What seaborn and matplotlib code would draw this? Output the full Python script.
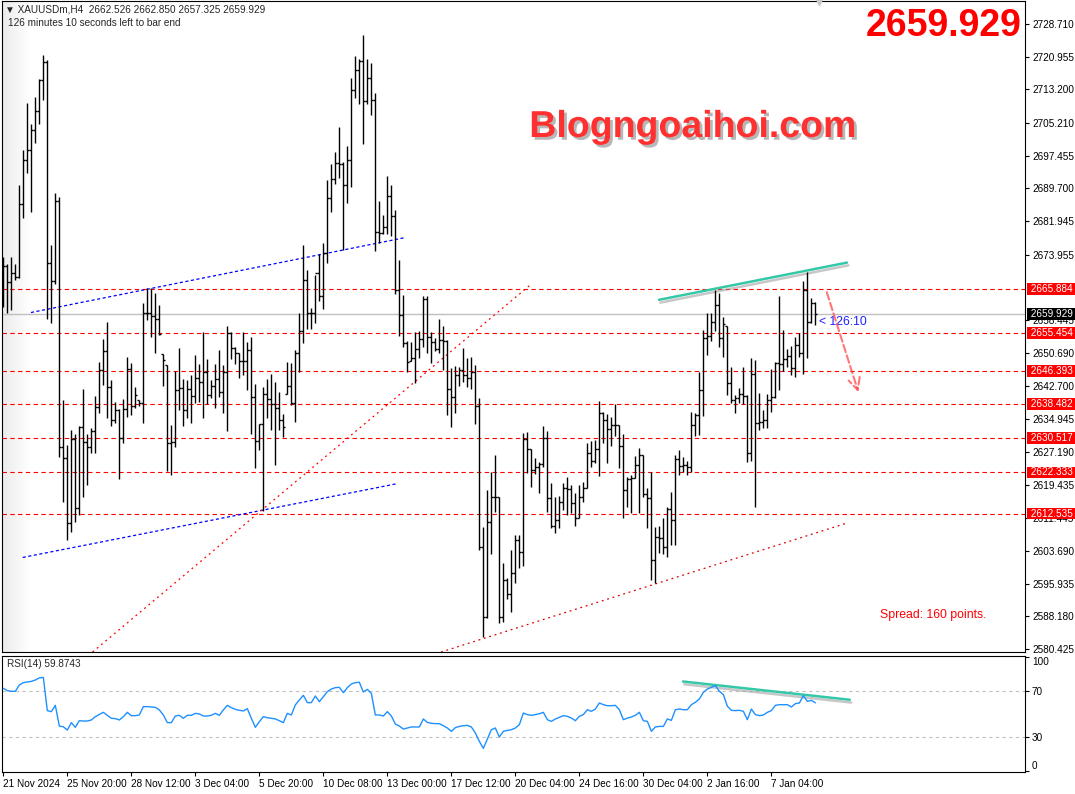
import numpy as np
import matplotlib
matplotlib.use("Agg")
import matplotlib.pyplot as plt
import matplotlib.patheffects as pe
from matplotlib.colors import LinearSegmentedColormap
from matplotlib.transforms import blended_transform_factory
import seaborn as sns

# ---- data (XAUUSDm H4) ----
symbol = "XAUUSDm,H4"
last_ohlc = [2662.526, 2662.850, 2657.325, 2659.929]
first_open = 2668.0

highs = [
    2673.51, 2671.85, 2673.51, 2671.85, 2690.56, 2698.85, 2709.98, 2705.01, 2711.40, 2715.67,
    2721.35, 2720.17, 2676.35, 2688.67, 2687.72, 2639.40, 2628.74, 2632.29, 2631.35, 2633.24,
    2642.01, 2631.35, 2632.77, 2640.35, 2648.40, 2653.85, 2658.11, 2644.14, 2638.93, 2637.27,
    2639.64, 2649.58, 2648.16, 2642.48, 2639.40, 2662.61, 2666.16, 2666.16, 2664.98, 2662.14,
    2650.30, 2647.69, 2633.48, 2646.27, 2651.72, 2644.37, 2644.14, 2645.32, 2650.06, 2647.93,
    2655.51, 2649.11, 2644.14, 2647.93, 2651.24, 2647.69, 2657.16, 2655.51, 2651.95, 2650.53,
    2655.51, 2653.14, 2654.32, 2643.19, 2633.72, 2642.48, 2644.37, 2645.56, 2643.66, 2641.29,
    2636.08, 2648.40, 2648.16, 2651.24, 2660.24, 2676.35, 2670.43, 2661.43, 2669.24, 2674.22,
    2676.82, 2691.74, 2695.53, 2698.38, 2704.30, 2696.01, 2699.80, 2715.90, 2721.11, 2720.40,
    2726.09, 2720.40, 2719.46, 2712.35, 2686.77, 2683.45, 2692.69, 2690.56, 2684.64, 2672.80,
    2664.51, 2653.37, 2653.14, 2655.51, 2655.74, 2664.27, 2664.27, 2655.51, 2654.08, 2658.59,
    2656.93, 2653.61, 2646.98, 2647.45, 2647.22, 2651.72, 2649.35, 2649.58, 2647.69, 2639.87,
    2609.32, 2618.08, 2622.35, 2626.37, 2616.43, 2600.79, 2597.24, 2603.87, 2607.43, 2607.43,
    2631.58, 2631.82, 2627.79, 2625.66, 2624.72, 2633.24, 2632.06, 2619.74, 2616.43, 2616.66,
    2619.74, 2621.16, 2619.27, 2617.37, 2619.27, 2619.98, 2629.22, 2629.69, 2629.93, 2639.16,
    2636.56, 2636.08, 2635.37, 2638.45, 2633.48, 2631.35, 2621.16, 2621.64, 2626.14, 2628.03,
    2626.37, 2618.56, 2622.35, 2609.32, 2609.56, 2611.45, 2614.06, 2617.61, 2626.37, 2627.56,
    2625.90, 2624.95, 2636.56, 2636.32, 2646.03, 2655.98, 2660.24, 2660.24, 2665.69, 2664.98,
    2659.06, 2657.16, 2647.22, 2640.58, 2642.24, 2647.22, 2640.58, 2649.35, 2648.87, 2641.06,
    2637.03, 2640.82, 2646.74, 2648.40, 2664.27, 2655.98, 2651.48, 2652.19, 2654.32, 2655.27,
    2667.82, 2669.95, 2663.80, 2662.85,
]
lows = [
    2661.66, 2660.01, 2660.95, 2668.06, 2668.53, 2682.74, 2693.40, 2684.17, 2700.51, 2705.01,
    2710.69, 2658.59, 2657.87, 2667.11, 2625.90, 2615.24, 2606.24, 2608.14, 2610.50, 2612.16,
    2616.43, 2619.27, 2626.85, 2626.85, 2636.32, 2642.95, 2635.14, 2633.24, 2633.95, 2620.69,
    2629.22, 2635.37, 2635.85, 2637.51, 2637.98, 2633.95, 2658.35, 2654.32, 2650.53, 2654.80,
    2642.72, 2622.58, 2621.64, 2628.27, 2637.03, 2633.24, 2635.14, 2633.95, 2638.69, 2638.93,
    2635.14, 2638.45, 2639.87, 2637.51, 2640.11, 2636.32, 2632.06, 2649.11, 2647.93, 2644.61,
    2645.32, 2641.77, 2631.35, 2623.29, 2627.56, 2613.11, 2635.14, 2632.29, 2624.00, 2632.29,
    2630.64, 2640.82, 2638.22, 2634.19, 2646.03, 2652.90, 2656.45, 2656.45, 2657.64, 2663.08,
    2661.19, 2672.09, 2684.17, 2690.80, 2692.22, 2675.16, 2686.30, 2690.09, 2711.17, 2709.74,
    2700.27, 2709.74, 2707.14, 2674.93, 2676.82, 2678.95, 2678.95, 2678.48, 2664.74, 2654.56,
    2651.95, 2646.03, 2648.64, 2643.43, 2649.35, 2651.95, 2650.53, 2648.16, 2651.01, 2650.53,
    2646.51, 2635.85, 2633.01, 2636.32, 2642.72, 2643.66, 2642.48, 2642.00, 2633.72, 2603.87,
    2583.27, 2587.77, 2602.93, 2612.87, 2586.58, 2586.82, 2592.27, 2589.19, 2596.06, 2599.61,
    2600.08, 2622.11, 2618.79, 2621.87, 2617.37, 2623.53, 2612.87, 2609.08, 2607.90, 2609.08,
    2613.35, 2612.16, 2612.64, 2609.56, 2611.45, 2615.24, 2618.56, 2623.53, 2624.48, 2621.40,
    2629.22, 2624.48, 2628.50, 2630.87, 2623.29, 2611.45, 2614.06, 2612.64, 2620.93, 2612.64,
    2616.43, 2609.08, 2596.77, 2596.06, 2603.16, 2602.93, 2602.21, 2605.06, 2605.06, 2621.64,
    2622.35, 2621.64, 2622.35, 2630.87, 2631.11, 2635.61, 2650.06, 2653.37, 2655.74, 2651.95,
    2649.58, 2640.58, 2638.69, 2636.32, 2638.69, 2638.45, 2624.72, 2624.95, 2614.06, 2632.29,
    2632.77, 2632.77, 2636.56, 2639.87, 2641.77, 2646.27, 2647.22, 2645.32, 2644.85, 2649.58,
    2645.56, 2649.35, 2657.87, 2657.33,
]
closes = [
    2671.38, 2667.59, 2669.72, 2668.77, 2686.06, 2696.48, 2698.85, 2703.59, 2708.09, 2715.43,
    2719.69, 2672.09, 2667.82, 2686.77, 2628.27, 2625.66, 2610.27, 2630.16, 2613.82, 2633.01,
    2629.45, 2628.27, 2632.06, 2637.74, 2646.51, 2651.01, 2642.48, 2634.66, 2637.03, 2630.40,
    2637.27, 2646.74, 2637.98, 2640.58, 2638.69, 2660.01, 2660.24, 2659.53, 2658.82, 2655.03,
    2648.87, 2629.22, 2629.45, 2641.77, 2642.24, 2637.03, 2642.01, 2640.35, 2644.61, 2643.66,
    2646.03, 2640.58, 2642.72, 2644.37, 2641.29, 2646.03, 2655.27, 2651.72, 2650.53, 2648.64,
    2648.64, 2651.24, 2640.11, 2629.69, 2633.72, 2640.82, 2639.64, 2638.45, 2637.51, 2634.66,
    2633.01, 2642.72, 2638.69, 2650.53, 2655.74, 2668.06, 2660.01, 2660.24, 2669.72, 2664.27,
    2674.45, 2687.48, 2691.98, 2695.77, 2695.53, 2690.56, 2696.48, 2713.06, 2717.80, 2719.93,
    2710.45, 2715.90, 2710.69, 2679.43, 2679.19, 2680.61, 2687.95, 2683.22, 2665.69, 2659.77,
    2652.90, 2648.40, 2649.35, 2651.48, 2653.85, 2663.56, 2654.32, 2653.14, 2651.48, 2653.61,
    2653.37, 2642.01, 2640.11, 2645.32, 2646.51, 2645.32, 2644.61, 2646.03, 2637.98, 2604.58,
    2588.00, 2610.50, 2616.43, 2616.43, 2588.00, 2596.77, 2593.45, 2598.43, 2606.24, 2603.40,
    2630.16, 2627.79, 2622.82, 2623.53, 2624.24, 2630.40, 2616.19, 2609.56, 2610.98, 2615.24,
    2618.56, 2618.32, 2615.00, 2611.45, 2616.43, 2618.56, 2626.85, 2624.95, 2627.79, 2636.32,
    2634.66, 2632.53, 2633.48, 2633.48, 2628.50, 2618.08, 2620.69, 2620.93, 2624.00, 2626.37,
    2617.14, 2616.19, 2601.50, 2606.95, 2606.72, 2604.58, 2613.58, 2610.98, 2625.43, 2623.77,
    2624.00, 2623.53, 2633.48, 2635.85, 2641.77, 2654.08, 2654.56, 2658.11, 2662.14, 2654.08,
    2657.40, 2643.43, 2639.40, 2639.87, 2640.82, 2640.35, 2626.85, 2645.56, 2633.95, 2634.19,
    2634.66, 2639.40, 2640.11, 2648.16, 2647.93, 2649.11, 2649.82, 2646.98, 2652.43, 2650.53,
    2665.69, 2658.11, 2662.50, 2659.93,
]
rsi = [
    72.6, 70.6, 70.0, 70.0, 75.5, 77.6, 78.2, 78.7, 79.9, 81.7,
    82.2, 53.1, 52.2, 57.7, 39.6, 39.0, 36.1, 42.6, 38.5, 44.3,
    44.0, 44.0, 44.9, 47.8, 49.8, 51.6, 49.0, 46.4, 46.1, 44.9,
    47.8, 51.6, 48.7, 48.7, 49.3, 56.6, 56.6, 56.3, 56.0, 53.7,
    49.3, 42.6, 42.6, 48.4, 49.0, 46.4, 49.0, 49.0, 50.7, 50.2,
    48.4, 48.4, 49.0, 50.7, 49.0, 53.7, 57.7, 55.7, 54.2, 53.4,
    52.8, 54.8, 46.4, 38.5, 43.4, 47.8, 46.9, 46.4, 45.8, 44.3,
    42.6, 50.7, 49.3, 58.1, 62.4, 66.5, 60.1, 60.1, 65.9, 60.9,
    65.3, 69.7, 72.0, 73.2, 73.5, 68.8, 73.2, 76.4, 77.6, 77.9,
    69.4, 71.7, 68.2, 49.3, 49.3, 48.4, 52.2, 48.4, 41.4, 39.6,
    37.0, 37.9, 38.8, 38.8, 38.8, 45.8, 42.8, 42.0, 41.7, 41.7,
    39.9, 37.9, 35.0, 38.2, 39.3, 39.9, 40.2, 38.8, 33.5, 26.2,
    20.1, 28.2, 36.4, 37.9, 30.0, 35.0, 35.8, 36.4, 37.9, 40.8,
    51.0, 49.6, 49.0, 49.6, 50.4, 51.6, 45.2, 43.7, 45.8, 47.2,
    48.7, 48.1, 46.6, 44.3, 48.1, 49.6, 53.9, 52.5, 54.5, 59.8,
    58.3, 57.4, 57.4, 57.7, 53.9, 45.2, 46.6, 47.5, 49.0, 51.6,
    44.3, 43.7, 35.0, 38.8, 39.3, 39.3, 45.8, 44.6, 53.9, 54.5,
    53.9, 53.9, 58.3, 60.4, 63.3, 69.1, 72.0, 73.5, 75.0, 70.0,
    67.1, 56.9, 53.4, 53.1, 53.4, 52.5, 45.2, 54.5, 49.6, 48.7,
    49.3, 51.6, 53.1, 57.7, 58.3, 58.3, 58.3, 56.3, 59.2, 59.8,
    66.2, 61.2, 62.1, 59.9,
]
rsi_label = "RSI(14) 59.8743"

level_prices = [2665.884, 2655.454, 2646.393, 2638.482, 2630.517, 2622.333, 2612.535]
price_ticks = [2728.710, 2720.955, 2713.200, 2705.210, 2697.455, 2689.700, 2681.945,
               2673.955, 2658.445, 2650.690, 2642.700, 2634.945, 2627.190, 2619.435,
               2611.445, 2603.690, 2595.935, 2588.180, 2580.425]
rsi_ticks = [100, 70, 30, 0]
date_labels = ["21 Nov 2024", "25 Nov 20:00", "28 Nov 12:00", "3 Dec 04:00",
               "5 Dec 20:00", "10 Dec 08:00", "13 Dec 00:00", "17 Dec 12:00",
               "20 Dec 04:00", "24 Dec 16:00", "30 Dec 04:00", "2 Jan 16:00",
               "7 Jan 04:00"]
date_step = 16

# drawn objects as (bar index, price) anchors
blue_low = [(4.85, 2602.14), (98.6, 2619.67)]
blue_high = [(6.9, 2660.24), (100.4, 2678.01)]
red_diag = [(22.3, 2579.7), (131.85, 2666.88)]
red_support = [(109.4, 2579.7), (210.4, 2610.15)]
teal_top = [(163.9, 2663.25), (210.9, 2672.08)]
teal_rsi = [(169.9, 78.6), (211.6, 62.6)]
arrow_from = (205.85, 2665.05)
arrow_to = (213.75, 2641.36)
spread_pos = (219.2, 2588.5)
timer_pos = (204.0, 2658.1)
shift_bar = 204

# ---- style ----
sns.set_theme(style="white")
plt.rcParams["font.family"] = ["Liberation Sans", "DejaVu Sans"]
plt.rcParams["axes.linewidth"] = 0.8

fig = plt.figure(figsize=(10.75, 7.94), dpi=100)
W, H = 1075, 794
ax = fig.add_axes([2 / W, 142 / H, 1023 / W, 651 / H])
axr = fig.add_axes([2 / W, 22 / H, 1023 / W, 116 / H], sharex=ax)

n = len(closes)
idx = np.arange(n)
closes_a = np.array(closes)
opens = np.r_[first_open, closes_a[:-1]]
opens[-1] = last_ohlc[0]
opens = np.clip(opens, lows, highs)

# light shading at the left edge
fade = LinearSegmentedColormap.from_list("fade", ["#ebebeb", "#ffffff"])
ax.imshow(np.linspace(0, 1, 64).reshape(1, -1), cmap=fade, aspect="auto",
          extent=[0, 0.027, 0, 1], transform=ax.transAxes, zorder=0)

# horizontal levels
for p in level_prices:
    ax.axhline(p, color="red", lw=0.8, dashes=(4, 3), zorder=1)
ax.axhline(last_ohlc[3], color="#c0c0c0", lw=1.0, zorder=1)

# trend lines
def seg(pts, **kw):
    (x0, y0), (x1, y1) = pts
    return ax.plot([x0, x1], [y0, y1], **kw)

seg(blue_low, color="blue", lw=0.9, dashes=(2.5, 2), zorder=2)
seg(blue_high, color="blue", lw=0.9, dashes=(2.5, 2), zorder=2)
seg(red_diag, color="red", lw=0.9, dashes=(1.5, 3), zorder=2)
seg(red_support, color="#dd0000", lw=0.9, dashes=(1.5, 3), zorder=2)
shadow = [pe.SimpleLineShadow(offset=(1, -2), shadow_color="#9a9a9a", alpha=0.55), pe.Normal()]
seg(teal_top, color="#35c8a8", lw=1.8, path_effects=shadow, zorder=3)

# OHLC bars
ax.vlines(idx, lows, highs, color="black", lw=1.0, zorder=4)
ax.hlines(opens, idx - 0.5, idx, color="black", lw=1.0, zorder=4)
ax.hlines(closes_a, idx, idx + 0.5, color="black", lw=1.0, zorder=4)

# arrow
ax.annotate("", xy=arrow_to, xytext=arrow_from,
            arrowprops=dict(arrowstyle="->,head_length=0.7,head_width=0.35",
                            color="#ff4a4a", lw=1.5, ls="--", alpha=0.75,
                            shrinkA=0, shrinkB=0), zorder=5)

ax.text(*timer_pos, "< 126:10", color="#2020ff", fontsize=8.8, va="center")
ax.text(*spread_pos, "Spread: 160 points.", color="red", fontsize=8.8, va="center")

# chart shift marker at the top
ax.plot([shift_bar], [1.0], marker="v", markersize=6, color="#c8c8c8",
        transform=blended_transform_factory(ax.transData, ax.transAxes),
        clip_on=False, zorder=6)

ax.set_xlim(-0.33, 255.4)
ax.set_ylim(2579.71, 2734.14)

ax.yaxis.tick_right()
ax.set_yticks(price_ticks)
ax.set_yticklabels([f"{t:.3f}" for t in price_ticks])
ax.tick_params(axis="y", right=True, left=False, length=3, width=0.8,
               labelsize=7.2, pad=2, colors="black")
ax.tick_params(axis="x", bottom=False, labelbottom=False)

trans = blended_transform_factory(ax.transAxes, ax.transData)
for p in level_prices:
    ax.text(1.0025, p, f" {p:.3f} ", transform=trans, color="white", fontsize=7.2,
            va="center", ha="left", clip_on=False, zorder=6,
            bbox=dict(boxstyle="square,pad=0.08", fc="red", ec="none"))
ax.text(1.0025, last_ohlc[3], f" {last_ohlc[3]:.3f} ", transform=trans, color="white",
        fontsize=7.2, va="center", ha="left", clip_on=False, zorder=7,
        bbox=dict(boxstyle="square,pad=0.08", fc="black", ec="none"))

# ---- RSI panel ----
for lv in (70, 30):
    axr.axhline(lv, color="#c0c0c0", lw=0.8, dashes=(3, 3), zorder=1)
sns.lineplot(x=idx, y=rsi, ax=axr, color="#1e90ff", lw=1.0, zorder=3)
(x0, y0), (x1, y1) = teal_rsi
axr.plot([x0, x1], [y0, y1], color="#35c8a8", lw=1.8, path_effects=shadow, zorder=2)
axr.text(5 / 1023, 1 - 8 / 116, rsi_label, transform=axr.transAxes, fontsize=7.2, va="center")

axr.set_ylim(-0.6, 100.9)
axr.yaxis.tick_right()
axr.set_yticks(rsi_ticks)
axr.set_yticklabels([str(t) for t in rsi_ticks])
for lab, t in zip(axr.get_yticklabels(), rsi_ticks):
    if t == 100:
        lab.set_va("top")
    elif t == 0:
        lab.set_va("bottom")
axr.tick_params(axis="y", right=True, left=False, length=3, width=0.8,
                labelsize=7.2, pad=2, colors="black")

tick_pos = idx[::date_step][:len(date_labels)]
axr.set_xticks(tick_pos)
axr.set_xticklabels(date_labels, ha="left")
axr.tick_params(axis="x", bottom=True, length=3, width=0.8, labelsize=7.2, pad=2, colors="black")
axr.set_xlabel("")
axr.set_ylabel("")

for a in (ax, axr):
    for s in a.spines.values():
        s.set_color("black")
        s.set_linewidth(0.8)

# ---- header and overlays ----
fig.text(5 / W, 1 - 10 / H,
         "\u25bc " + symbol + "  " + " ".join(f"{v:.3f}" for v in last_ohlc),
         fontsize=7.2, va="center")
fig.text(8 / W, 1 - 23 / H, "126 minutes 10 seconds left to bar end", fontsize=7.2, va="center")
fig.text(1022 / W, 1 - 26 / H, f"{last_ohlc[3]:.3f}", fontsize=27, fontweight="bold",
         color="red", ha="right", va="center")
fig.text(693 / W, 1 - 127 / H, "Blogngoaihoi.com", fontsize=27, fontweight="bold",
         color="#ff3030", ha="center", va="center",
         path_effects=[pe.withSimplePatchShadow(offset=(2, -2), shadow_rgbFace="#888888", alpha=0.6)])

fig.savefig("out.png", dpi=100, facecolor="white")
